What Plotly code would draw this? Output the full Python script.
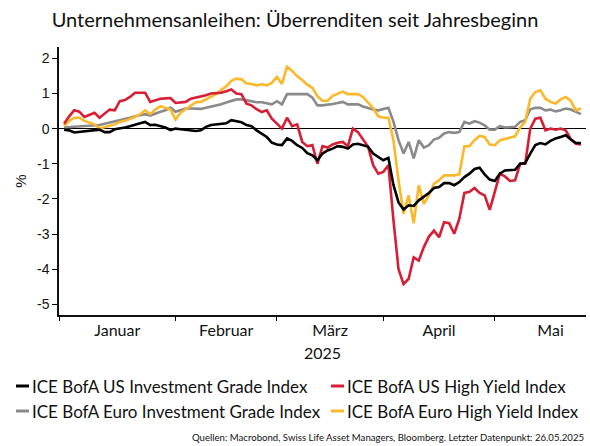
import plotly.graph_objects as go
import pandas as pd

# business days from 2 Jan to 26 May 2025
dates = pd.bdate_range("2025-01-02", "2025-05-26")

us_ig = [-0.03, -0.05, -0.11, -0.09, -0.07, -0.05, -0.05, -0.03, -0.10, -0.10,
         -0.02, 0.00, 0.03, 0.07, 0.12, 0.15, 0.19, 0.10, 0.11, 0.07,
         0.03, -0.04, 0.00, -0.02, -0.04, -0.07, -0.07, -0.05, 0.05, 0.10,
         0.12, 0.14, 0.15, 0.24, 0.22, 0.18, 0.10, 0.07, -0.05, -0.14,
         -0.24, -0.40, -0.45, -0.47, -0.28, -0.35, -0.47, -0.55, -0.70, -0.76,
         -0.90, -0.71, -0.62, -0.57, -0.50, -0.52, -0.57, -0.45, -0.43, -0.47,
         -0.52, -0.71, -0.81, -0.90, -0.83, -1.60, -2.10, -2.30, -2.18, -2.20,
         -2.04, -1.93, -1.83, -1.69, -1.66, -1.55, -1.55, -1.61, -1.52, -1.38,
         -1.28, -1.15, -1.11, -1.30, -1.45, -1.49, -1.28, -1.19, -1.19, -1.17,
         -1.00, -0.98, -0.71, -0.47, -0.41, -0.45, -0.35, -0.28, -0.24, -0.19,
         -0.31, -0.41, -0.41]

us_hy = [0.14, 0.35, 0.52, 0.48, 0.33, 0.38, 0.45, 0.31, 0.42, 0.54,
         0.52, 0.78, 0.81, 0.90, 1.02, 1.02, 1.02, 0.76, 0.80, 0.85,
         0.86, 0.87, 0.73, 0.74, 0.76, 0.85, 0.88, 0.92, 0.95, 1.00,
         1.00, 1.02, 1.06, 1.11, 1.00, 0.98, 0.71, 0.66, 0.55, 0.47,
         0.52, 0.28, 0.14, 0.00, 0.31, 0.07, 0.12, -0.38, -0.50, -0.47,
         -1.00, -0.50, -0.54, -0.45, -0.40, -0.38, -0.50, 0.00, -0.10, -0.33,
         -0.52, -1.04, -1.28, -1.23, -1.04, -2.60, -4.00, -4.42, -4.27, -3.66,
         -3.75, -3.37, -3.07, -2.90, -3.09, -2.66, -2.69, -2.99, -2.56, -1.83,
         -1.80, -1.69, -1.83, -1.90, -2.31, -1.80, -1.28, -1.36, -1.49, -1.47,
         -1.00, -1.00, 0.00, 0.28, 0.31, -0.05, 0.00, -0.03, 0.00, -0.05,
         -0.30, -0.43, -0.45]

eu_ig = [0.03, 0.04, 0.05, 0.06, 0.07, 0.07, 0.08, 0.10, 0.14, 0.17,
         0.21, 0.25, 0.28, 0.31, 0.35, 0.38, 0.41, 0.37, 0.43, 0.48,
         0.52, 0.60, 0.48, 0.52, 0.57, 0.57, 0.57, 0.56, 0.59, 0.62,
         0.65, 0.69, 0.74, 0.79, 0.83, 0.83, 0.80, 0.78, 0.75, 0.75,
         0.73, 0.69, 0.78, 0.69, 0.98, 0.98, 0.98, 0.97, 0.98, 0.88,
         0.66, 0.66, 0.67, 0.70, 0.73, 0.76, 0.69, 0.70, 0.69, 0.63,
         0.58, 0.54, 0.52, 0.55, 0.59, 0.20, -0.33, -0.71, -0.38, -0.85,
         -0.33, -0.54, -0.47, -0.31, -0.26, -0.14, -0.10, -0.12, -0.10, 0.19,
         0.14, 0.21, 0.17, 0.09, -0.03, -0.03, 0.07, 0.03, 0.03, 0.05,
         0.19, 0.24, 0.55, 0.59, 0.59, 0.52, 0.54, 0.49, 0.52, 0.57,
         0.54, 0.47, 0.41]

eu_hy = [0.07, 0.22, 0.31, 0.31, 0.22, 0.17, 0.12, 0.00, 0.05, 0.08,
         0.12, 0.19, 0.22, 0.27, 0.33, 0.41, 0.52, 0.41, 0.54, 0.64,
         0.60, 0.54, 0.26, 0.45, 0.55, 0.66, 0.75, 0.76, 0.83, 0.90,
         0.98, 1.10, 1.20, 1.36, 1.42, 1.40, 1.28, 1.27, 1.23, 1.26,
         1.23, 1.30, 1.47, 1.27, 1.76, 1.64, 1.49, 1.38, 1.25, 1.16,
         0.92, 0.79, 0.79, 0.93, 1.00, 1.05, 0.98, 0.98, 0.98, 0.90,
         0.75, 0.58, 0.35, 0.31, 0.31, -0.33, -1.47, -2.42, -1.90, -2.69,
         -1.61, -2.14, -1.90, -1.57, -1.47, -1.33, -1.33, -1.33, -1.30, -0.50,
         -0.50, -0.33, -0.21, -0.24, -0.45, -0.47, -0.33, -0.30, -0.26, -0.22,
         0.03, 0.19, 0.85, 1.04, 1.09, 0.85, 0.76, 0.71, 0.83, 0.90,
         0.79, 0.52, 0.57]

series_names = ["ICE BofA US Investment Grade Index", "ICE BofA US High Yield Index",
                "ICE BofA Euro Investment Grade Index", "ICE BofA Euro High Yield Index"]
series_colors = ["#000000", "#d81e34", "#8a8a8a", "#fbb829"]

month_bounds = ["2025-01-01", "2025-02-03", "2025-03-03", "2025-04-01", "2025-05-01"]
month_centers = ["2025-01-16 12:00", "2025-02-17", "2025-03-17 12:00", "2025-04-16", "2025-05-16"]
month_labels = ["Januar", "Februar", "März", "April", "Mai"]
y_ticks = [-5, -4, -3, -2, -1, 0, 1, 2]

W, H = 590, 446
L, R, T, B = 59, 4, 47, 131
PW, PH = W - L - R, H - T - B


def px2x(px):
    return (px - L) / PW


def py2y(py):
    return (H - B - py) / PH


FONT = "Lato"
NUM_FONT = "Liberation Sans, Arial"

fig = go.Figure()
values = [us_ig, us_hy, eu_ig, eu_hy]
for idx in [2, 3, 1, 0]:
    fig.add_trace(go.Scatter(x=dates, y=values[idx], mode="lines", name=series_names[idx],
                             line=dict(color=series_colors[idx], width=2.6),
                             showlegend=False, hoverinfo="skip"))

# legend built from annotations and short line keys
legend_pos = [(16, 386), (331, 386), (16, 411), (331, 411)]
shapes = []
annotations = []
for (lx, ly), name, col in zip(legend_pos, series_names, series_colors):
    shapes.append(dict(type="line", xref="paper", yref="paper",
                       x0=px2x(lx), x1=px2x(lx + 13), y0=py2y(ly), y1=py2y(ly),
                       line=dict(color=col, width=3)))
    annotations.append(dict(text=name, xref="paper", yref="paper",
                            x=px2x(lx + 14), y=py2y(ly), xanchor="left", yanchor="middle",
                            showarrow=False, font=dict(family=FONT, size=17, color="#111")))

annotations.append(dict(
    text="Quellen: Macrobond, Swiss Life Asset Managers, Bloomberg. Letzter Datenpunkt: 26.05.2025",
    xref="paper", yref="paper", x=px2x(190), y=py2y(437), xanchor="left", yanchor="middle",
    showarrow=False, font=dict(family=FONT, size=9.6, color="#111")))

fig.update_layout(
    width=W, height=H,
    margin=dict(l=L, r=R, t=T, b=B),
    paper_bgcolor="white", plot_bgcolor="white",
    title=dict(text="Unternehmensanleihen: Überrenditen seit Jahresbeginn",
               x=0.5, xanchor="center", xref="container",
               y=1 - 20 / H, yanchor="middle", yref="container",
               font=dict(family=FONT, size=20, color="#111")),
    shapes=shapes,
    annotations=annotations,
    showlegend=False,
)

fig.update_xaxes(
    type="date",
    range=["2025-01-01", "2025-05-27"],
    rangebreaks=[dict(bounds=["sat", "mon"])],
    tickmode="array", tickvals=month_centers, ticktext=month_labels,
    ticks="", ticklabelstandoff=0,
    tickfont=dict(family=FONT, size=16, color="#111"),
    minor=dict(tickmode="array", tickvals=month_bounds, ticks="outside",
               ticklen=4, tickwidth=1, tickcolor="#000", showgrid=False),
    showline=True, linecolor="#111", linewidth=1.5,
    showgrid=False, zeroline=False,
    title=dict(text="2025", standoff=10, font=dict(family=FONT, size=16, color="#111")),
)

fig.update_yaxes(
    range=[-5.3, 2.32],
    tickmode="array", tickvals=y_ticks, ticktext=[str(v) for v in y_ticks],
    ticks="outside", ticklen=5, tickwidth=1, tickcolor="#000",
    tickfont=dict(family=NUM_FONT, size=14, color="#111"),
    showline=True, linecolor="#111", linewidth=1.5,
    showgrid=False,
    zeroline=True, zerolinecolor="#000", zerolinewidth=1,
    title=dict(text="%", standoff=7, font=dict(family=NUM_FONT, size=15, color="#111")),
)

fig.write_html("out.html",
               config={"displayModeBar": False},
               post_script="document.body.style.margin='0';document.body.style.overflow='hidden';")
